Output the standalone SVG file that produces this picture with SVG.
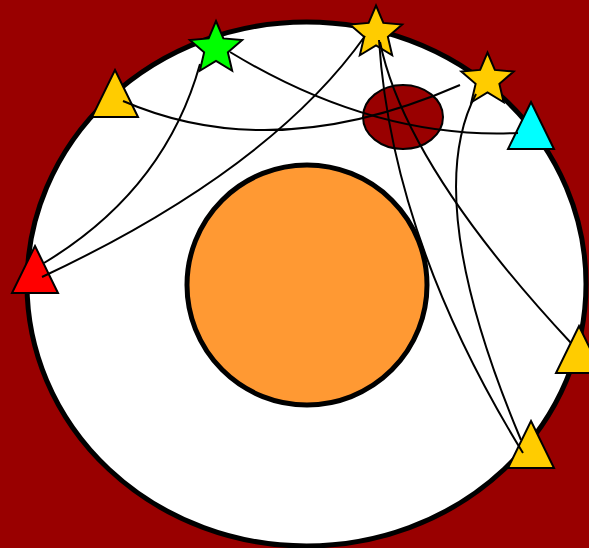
<svg xmlns="http://www.w3.org/2000/svg" xmlns:xlink="http://www.w3.org/1999/xlink" width="589" height="548" viewBox="0 0 589 548">
  <style>
    .shape { stroke: #000; stroke-width: 2; stroke-linejoin: miter; }
    .edge { fill: none; stroke: #000; stroke-width: 2; }
  </style>
  <defs>
    <path id="star" d="M0,-27.5 L7.35,-10.1 L26.16,-8.5 L11.9,3.86 L16.16,22.25 L0,12.5 L-16.16,22.25 L-11.9,3.86 L-26.16,-8.5 L-7.35,-10.1 Z"/>
    <path id="tri" d="M0,0 L23,47 L-23,47 Z"/>
  </defs>
  <rect x="0" y="0" width="589" height="548" fill="#990000"/>
  <g id="outer-circle">
    <ellipse cx="306.5" cy="284" rx="279.5" ry="262" fill="#FFFFFF" stroke="#000" stroke-width="5"/>
  </g>
  <g id="inner-circle">
    <circle cx="307" cy="285" r="120" fill="#FF9933" stroke="#000" stroke-width="5"/>
  </g>
  <g id="small-ellipse">
    <ellipse cx="403" cy="117" rx="40" ry="32" fill="#990000" class="shape"/>
  </g>
  <g id="tri-topleft"><use xlink:href="#tri" href="#tri" x="115" y="70" fill="#FFCC00" class="shape"/></g>
  <g id="tri-cyan"><use xlink:href="#tri" href="#tri" x="531" y="102" fill="#00FFFF" class="shape"/></g>
  <g id="tri-red"><use xlink:href="#tri" href="#tri" x="35" y="246" fill="#FF0000" class="shape"/></g>
  <g id="tri-right"><use xlink:href="#tri" href="#tri" x="579" y="326" fill="#FFCC00" class="shape"/></g>
  <g id="tri-bottom"><use xlink:href="#tri" href="#tri" x="531" y="421" fill="#FFCC00" class="shape"/></g>
  <g id="star-green"><use xlink:href="#star" href="#star" x="216" y="48.5" fill="#00FF00" class="shape"/></g>
  <g id="star-top"><use xlink:href="#star" href="#star" x="376" y="33" fill="#FFCC00" class="shape"/></g>
  <g id="star-right"><use xlink:href="#star" href="#star" x="487.5" y="80" fill="#FFCC00" class="shape"/></g>
  <g id="connectors">
    <path class="edge" d="M230,52 Q375,140 518,133"/>
    <path class="edge" d="M123,101 C190,130 300,155 460,85"/>
    <path class="edge" d="M200,64 Q165,190 44,263"/>
    <path class="edge" d="M365,36 Q270,170 42,277"/>
    <path class="edge" d="M379,40 Q392,240 523,453"/>
    <path class="edge" d="M380,42 Q405,165 571,343"/>
    <path class="edge" d="M476,94 Q420,200 521,440"/>
  </g>
</svg>
